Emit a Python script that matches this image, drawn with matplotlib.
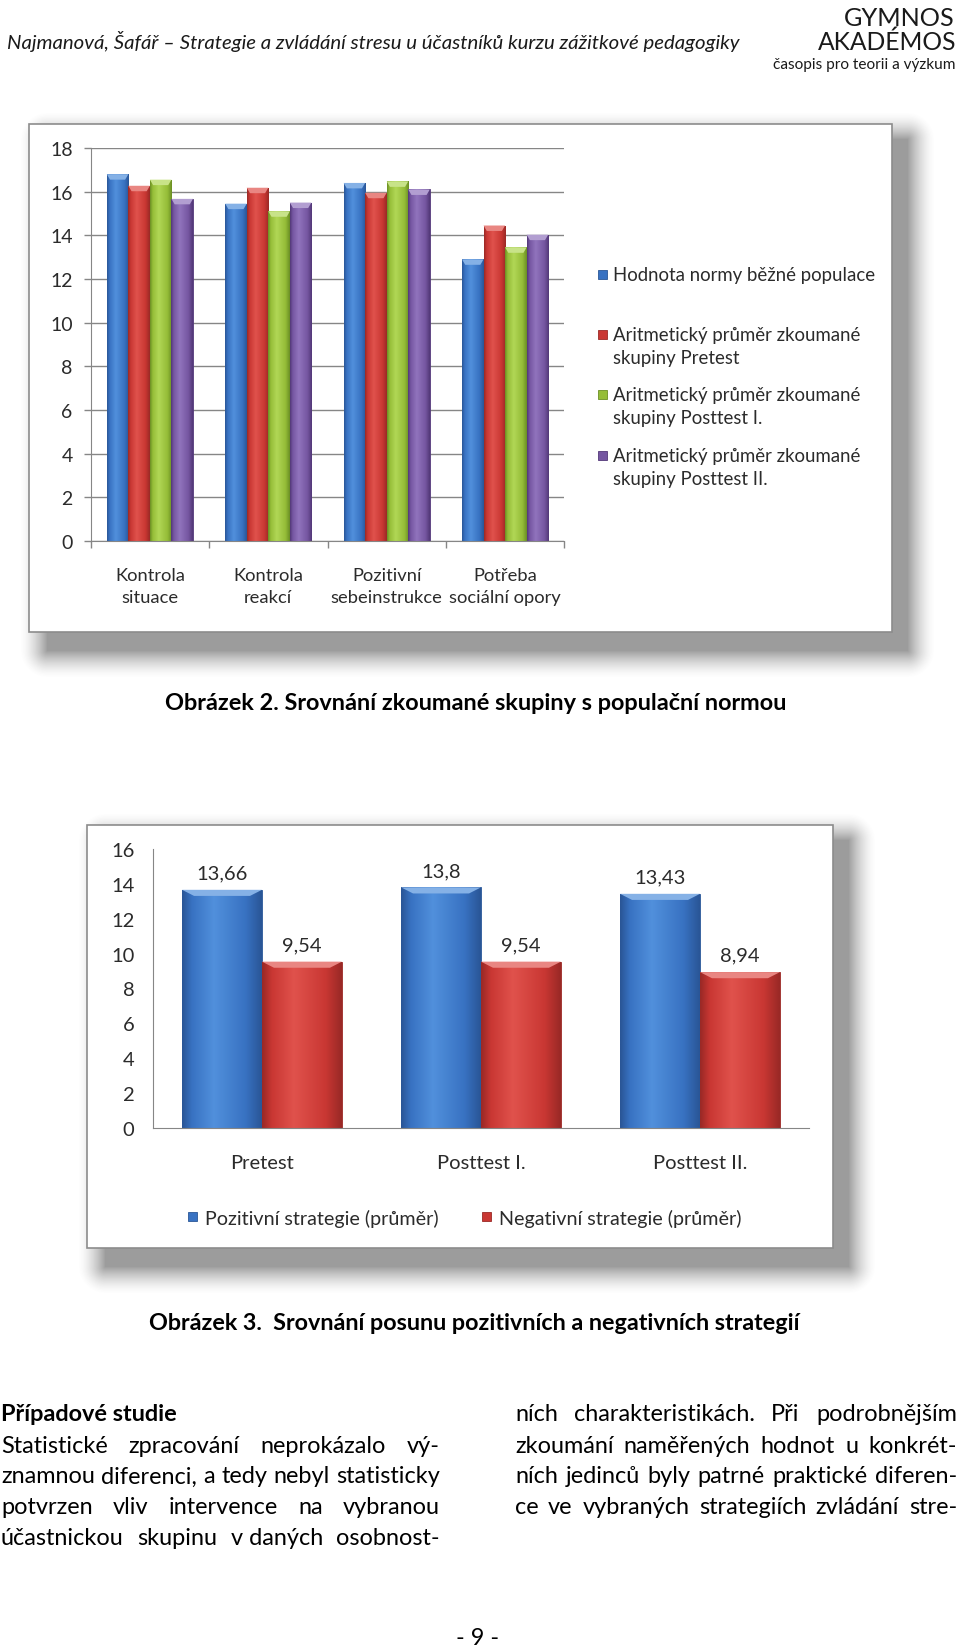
import numpy as np
import matplotlib
matplotlib.use("Agg")
import matplotlib.pyplot as plt
from matplotlib.patches import Rectangle, Polygon
from matplotlib.colors import to_rgb

# ---- data: obrazek 2 ----
strategie = ["Kontrola\nsituace", "Kontrola\nreakcí", "Pozitivní\nsebeinstrukce", "Potřeba\nsociální opory"]
skupiny = ["Hodnota normy běžné populace",
           "Aritmetický průměr zkoumané\nskupiny Pretest",
           "Aritmetický průměr zkoumané\nskupiny Posttest I.",
           "Aritmetický průměr zkoumané\nskupiny Posttest II."]
norma_populace = [16.8, 15.45, 16.4, 12.9]
pretest = [16.27, 16.18, 15.95, 14.45]
posttest_1 = [16.55, 15.1, 16.47, 13.45]
posttest_2 = [15.67, 15.5, 16.1, 14.03]

# ---- data: obrazek 3 ----
faze = ["Pretest", "Posttest I.", "Posttest II."]
typy_strategii = ["Pozitivní strategie (průměr)", "Negativní strategie (průměr)"]
pozitivni = [13.66, 13.8, 13.43]
negativni = [9.54, 9.54, 8.94]

# ---- page text ----
hlavicka = "Najmanová, Šafář – Strategie a zvládání stresu u účastníků kurzu zážitkové pedagogiky"
popisek2 = "Obrázek 2. Srovnání zkoumané skupiny s populační normou"
popisek3 = "Obrázek 3.  Srovnání posunu pozitivních a negativních strategií"
nadpis = "Případové studie"
levy_sloupec = ["Statistické zpracování neprokázalo vý-",
                "znamnou diferenci, a tedy nebyl statisticky",
                "potvrzen vliv intervence na vybranou",
                "účastnickou skupinu v\u00a0daných osobnost-"]
pravy_sloupec = ["ních charakteristikách. Při podrobnějším",
                 "zkoumání naměřených hodnot u konkrét-",
                 "ních jedinců byly patrné praktické diferen-",
                 "ce ve vybraných strategiích zvládání stre-"]

# (dark, mid, light)
BLUE = ("#2a5697", "#3872c2", "#5190dc")
RED = ("#9a2926", "#c93733", "#e0524c")
GREEN = ("#6b8f24", "#95bd38", "#b1d756")
PURPLE = ("#533878", "#7556a1", "#9174bd")
GRID = "#868686"
TXT = "#2b2b2b"

PAGE_FONT = ["Liberation Sans Narrow", "Lato"]
plt.rcParams["font.family"] = ["Lato", "DejaVu Sans"]

W, H = 960, 1649
fig = plt.figure(figsize=(W / 100, H / 100), dpi=100)
renderer = fig.canvas.get_renderer()


def fx(x):
    return x / W


def fy(y):
    return 1 - y / H


def shadow_layer(frames):
    yy, xx = np.mgrid[0:H, 0:W]
    alpha = np.zeros((H, W))
    for x0, y0, x1, y1 in frames:
        sx0, sy0, sx1, sy1 = x0 + 18, y0 + 15, x1 + 15, y1 + 18
        dx = np.maximum(np.maximum(sx0 - xx, xx - sx1), 0)
        dy = np.maximum(np.maximum(sy0 - yy, yy - sy1), 0)
        d = np.hypot(dx, dy)
        alpha = np.maximum(alpha, np.clip(1 - d / 28, 0, 1) ** 1.6 * 0.55)
    img = np.zeros((H, W, 4))
    img[..., :3] = 0.3
    img[..., 3] = alpha
    return img


def bar_gradient(dark, mid, light, n=64):
    stops = [0, 0.12, 0.4, 0.8, 1]
    cols = np.array([to_rgb(c) for c in (dark, mid, light, mid, dark)])
    t = np.linspace(0, 1, n)
    return np.stack([np.interp(t, stops, cols[:, k]) for k in range(3)], axis=-1)[None, :, :]


def beveled_bars(ax, xs, vals, width, pal, bevel):
    dark, mid, light = pal
    bars = ax.bar(xs, vals, width, color=mid, edgecolor=dark, linewidth=0.6, zorder=2)
    grad = bar_gradient(dark, mid, light)
    cap = np.array(to_rgb(light)) * 0.7 + 0.3
    for b in bars:
        x0, w, h = b.get_x(), b.get_width(), b.get_height()
        im = ax.imshow(grad, extent=[x0, x0 + w, 0, h], aspect="auto",
                       interpolation="bilinear", zorder=2.1)
        im.set_clip_path(b)
        ax.add_patch(Polygon([(x0, h), (x0 + w, h), (x0 + w * 0.85, h - bevel),
                              (x0 + w * 0.15, h - bevel)], closed=True,
                             facecolor=cap, edgecolor="none", zorder=2.2))
    return bars


def legend_box(x, y, pal):
    fig.add_artist(Rectangle((fx(x - 4.5), fy(y + 4.5)), 9 / W, 9 / H, transform=fig.transFigure,
                             facecolor=pal[1], edgecolor=pal[0], lw=0.6, zorder=3))


def fit_text(x0, x1, y, s, size=14, **kw):
    t = fig.text(fx(x0), fy(y), s, fontsize=size, ha="left", va="center_baseline", **kw)
    w = t.get_window_extent(renderer).width
    t.set_fontsize(size * (x1 - x0) / w)
    return t


def text_width(s, size, **kw):
    t = fig.text(0, 0, s, fontsize=size, **kw)
    w = t.get_window_extent(renderer).width
    t.remove()
    return w


def justify(x0, x1, y, line, size, **kw):
    words = line.split(" ")
    widths = [text_width(wd, size, **kw) for wd in words]
    gap = (x1 - x0 - sum(widths)) / (len(words) - 1)
    x = x0
    for wd, w in zip(words, widths):
        fig.text(fx(x), fy(y), wd, fontsize=size, ha="left", va="center_baseline", **kw)
        x += w + gap


# ---- frames and shadows ----
frame1 = (29, 125, 892, 633)
frame2 = (87, 826, 833, 1249)
fig.figimage(shadow_layer([frame1, frame2]), 0, 0, origin="upper", zorder=-2)
for x0, y0, x1, y1 in (frame1, frame2):
    fig.add_artist(Rectangle((fx(x0), fy(y1)), (x1 - x0) / W, (y1 - y0) / H, transform=fig.transFigure,
                             facecolor="white", edgecolor="#8c8c8c", lw=1.2, zorder=-1))

# ---- obrazek 2 ----
ax1 = fig.add_axes([fx(90.7), fy(542), (564.3 - 90.7) / W, (542 - 149) / H], zorder=1)
ax1.patch.set_visible(False)
x = np.arange(len(strategie))
bw = 0.182
for i, (vals, pal) in enumerate(zip([norma_populace, pretest, posttest_1, posttest_2],
                                    [BLUE, RED, GREEN, PURPLE])):
    beveled_bars(ax1, x + (i - 1.5) * bw, vals, bw, pal, 0.25)
ax1.set_xlim(-0.5, 3.5)
ax1.set_ylim(0, 18)
ax1.set_yticks(range(0, 19, 2))
ax1.set_xticks(x)
ax1.set_xticklabels(strategie)
ax1.set_xticks(np.arange(-0.5, 4, 1), minor=True)
ax1.tick_params(axis="x", which="major", length=0, pad=18.5, labelsize=13.2, labelcolor=TXT)
ax1.tick_params(axis="x", which="minor", length=5, color=GRID, width=1)
ax1.tick_params(axis="y", length=5, color=GRID, width=1, pad=8, labelsize=14, labelcolor=TXT)
for lab in ax1.get_xticklabels():
    lab.set_linespacing(1.5)
ax1.yaxis.grid(True, color=GRID, lw=1)
ax1.set_axisbelow(True)
for s in ("top", "right"):
    ax1.spines[s].set_visible(False)
for s in ("left", "bottom"):
    ax1.spines[s].set_color(GRID)

# manual legend, marker sits on the first line of each entry
for name, pal, y in zip(skupiny, [BLUE, RED, GREEN, PURPLE], [275, 335, 395, 456]):
    legend_box(602, y, pal)
    n_lines = name.count("\n") + 1
    fig.text(fx(613), fy(y + 12 * (n_lines - 1)), name, fontsize=13.4, color=TXT, ha="left",
             va="center", linespacing=1.45)

# ---- obrazek 3 ----
ax2 = fig.add_axes([fx(152.5), fy(1129), (809.5 - 152.5) / W, (1129 - 850) / H], zorder=1)
ax2.patch.set_visible(False)
x = np.arange(len(faze))
bw = 0.365
for i, (vals, pal) in enumerate(zip([pozitivni, negativni], [BLUE, RED])):
    bars = beveled_bars(ax2, x + (i - 0.5) * bw, vals, bw, pal, 0.35)
    ax2.bar_label(bars, labels=[f"{v:g}".replace(".", ",") for v in vals],
                  padding=6, fontsize=14.5, color=TXT, zorder=4)
ax2.set_xlim(-0.5, 2.5)
ax2.set_ylim(0, 16)
ax2.set_yticks(range(0, 17, 2))
ax2.set_xticks(x)
ax2.set_xticklabels(faze)
ax2.tick_params(axis="x", length=0, pad=19, labelsize=14.5, labelcolor=TXT)
ax2.tick_params(axis="y", length=0, pad=13, labelsize=14.5, labelcolor=TXT)
for s in ("top", "right"):
    ax2.spines[s].set_visible(False)
for s in ("left", "bottom"):
    ax2.spines[s].set_color(GRID)

for name, pal, xm in zip(typy_strategii, [BLUE, RED], [192, 486]):
    legend_box(xm, 1217, pal)
    fig.text(fx(xm + 13), fy(1217), name, fontsize=14.2, color=TXT, ha="left", va="center_baseline")

# ---- page text ----
fit_text(7, 745, 40, hlavicka, family=PAGE_FONT, style="italic", color="#1a1a1a")
fit_text(844, 955, 17, "GYMNOS", family=PAGE_FONT, color="#1a1a1a")
fit_text(818, 957, 40, "AKADÉMOS", family=PAGE_FONT, color="#1a1a1a")
fit_text(773, 957, 63, "časopis pro teorii a výzkum", family=PAGE_FONT, color="#1a1a1a")
fit_text(165, 792, 701, popisek2, family=PAGE_FONT, weight="bold", color="black")
fit_text(149, 807, 1321, popisek3, family=PAGE_FONT, weight="bold", color="black")

body_size = 14 * min([439 / text_width(l, 14, family=PAGE_FONT) for l in levy_sloupec] +
                     [442 / text_width(l, 14, family=PAGE_FONT) for l in pravy_sloupec])
fig.text(fx(1), fy(1413), nadpis, fontsize=body_size, family=PAGE_FONT, weight="bold",
         ha="left", va="center_baseline")
for line, y in zip(levy_sloupec, [1445, 1475, 1506, 1537]):
    justify(1, 440, y, line, body_size, family=PAGE_FONT)
for line, y in zip(pravy_sloupec, [1413, 1445, 1475, 1506]):
    justify(515, 957, y, line, body_size, family=PAGE_FONT)
fig.text(fx(478), fy(1637), "- 9 -", fontsize=body_size, family=PAGE_FONT,
         ha="center", va="center_baseline")

fig.savefig("out.png", dpi=100)
